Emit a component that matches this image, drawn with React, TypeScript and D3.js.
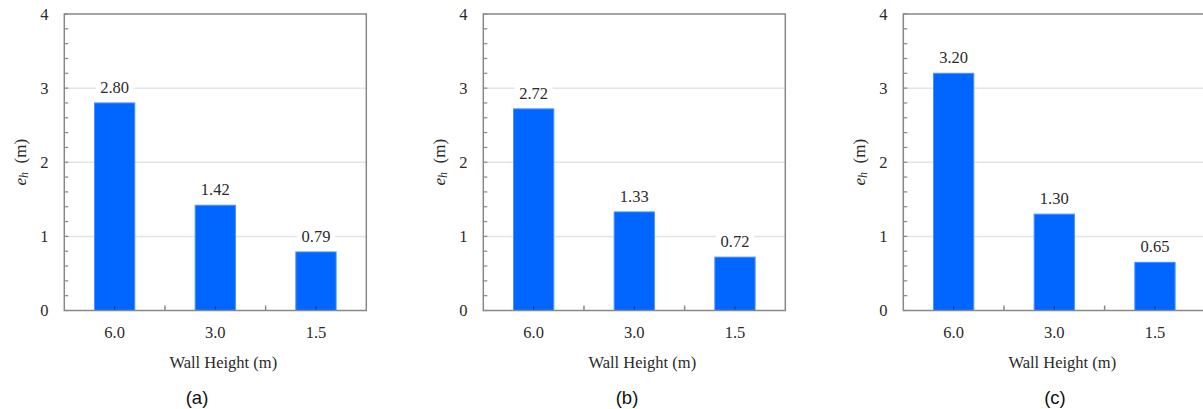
import React from "react";
import * as d3 from "d3";

const categories = ["6.0", "3.0", "1.5"];
const valuesA = [2.8, 1.42, 0.79];
const valuesB = [2.72, 1.33, 0.72];
const valuesC = [3.2, 1.3, 0.65];
const captions = ["(a)", "(b)", "(c)"];
const yTicks = [0, 1, 2, 3, 4];
const yMinorTicks = d3.range(0, 4.0001, 0.2);

const W = 1203;
const H = 409;
const panelLefts = [64.3, 483.3, 903.3];
const captionX = [197, 627, 1055];
const plotW = 302;
const top = 14;
const bottom = 310.5;

const serif = "'Liberation Serif', 'Times New Roman', serif";
const sans = "'Liberation Sans', Arial, sans-serif";
const textCol = "#2a2a2a";

function Panel({ left, values, caption, capX }: { left: number; values: number[]; caption: string; capX: number }) {
  const x = d3.scaleBand<string>().domain(categories).range([left, left + plotW]).paddingInner(0.6).paddingOuter(0.3);
  const y = d3.scaleLinear().domain([0, 4]).range([bottom, top]);
  const step = x.step();
  const boundaries = [1, 2].map((k) => left + step * k);
  return (
    <g>
      {[1, 2, 3].map((t) => (
        <line key={"g" + t} x1={left} x2={left + plotW} y1={y(t)} y2={y(t)} stroke="#e4e4e4" strokeWidth={1.5} />
      ))}
      {values.map((v, i) => (
        <rect
          key={"b" + i}
          x={x(categories[i])!}
          y={y(v)}
          width={x.bandwidth()}
          height={bottom - y(v)}
          fill="#0066ff"
          stroke="#4a90ff"
          strokeWidth={1}
        />
      ))}
      {values.map((v, i) => {
        const cx = x(categories[i])! + x.bandwidth() / 2;
        const cy = y(v) - 15.5;
        return (
          <g key={"l" + i}>
            <rect x={cx - 19} y={cy - 8} width={38} height={16} fill="#ffffff" />
            <text x={cx} y={cy} textAnchor="middle" dominantBaseline="central" fontFamily={serif} fontSize={16.5} fill={textCol}>
              {v.toFixed(2)}
            </text>
          </g>
        );
      })}
      {yMinorTicks.map((t, i) => (
        <line key={"ym" + i} x1={left} x2={left + 4} y1={y(t)} y2={y(t)} stroke="#888" strokeWidth={1.2} />
      ))}
      {boundaries.map((bx, i) => (
        <line key={"xb" + i} x1={bx} x2={bx} y1={bottom} y2={bottom - 5} stroke="#888" strokeWidth={1.5} />
      ))}
      {categories.map((c, i) => {
        const cx = x(c)! + x.bandwidth() / 2;
        return <line key={"xc" + i} x1={cx} x2={cx} y1={bottom} y2={bottom - 4} stroke="#003a99" strokeWidth={1.2} />;
      })}
      <rect x={left} y={top} width={plotW} height={bottom - top} fill="none" stroke="#888" strokeWidth={1.5} />
      {yTicks.map((t) => (
        <text key={"yt" + t} x={left - 20} y={y(t)} textAnchor="middle" dominantBaseline="central" fontFamily={serif} fontSize={16.5} fill={textCol}>
          {t}
        </text>
      ))}
      {categories.map((c) => (
        <text key={"xt" + c} x={x(c)! + x.bandwidth() / 2} y={332} textAnchor="middle" dominantBaseline="central" fontFamily={serif} fontSize={16.5} fill={textCol}>
          {c}
        </text>
      ))}
      <text x={left + plotW / 2 + 8} y={362} textAnchor="middle" dominantBaseline="central" fontFamily={serif} fontSize={16.5} fill={textCol}>
        Wall Height (m)
      </text>
      <text
        transform={`translate(${left - 44},${(top + bottom) / 2}) rotate(-90)`}
        textAnchor="middle"
        dominantBaseline="central"
        fontFamily={serif}
        fontSize={17}
        fill={textCol}
      >
        <tspan fontStyle="italic">e</tspan>
        <tspan fontStyle="italic" fontSize={12} dy={4}>h</tspan>
        <tspan dy={-4}>{"\u00a0\u00a0(m)"}</tspan>
      </text>
      <text x={capX} y={397} textAnchor="middle" dominantBaseline="central" fontFamily={sans} fontSize={18.5} fill="#111">
        {caption}
      </text>
    </g>
  );
}

export default function App() {
  const all = [valuesA, valuesB, valuesC];
  return (
    <svg width={W} height={H} style={{ position: "absolute", left: 0, top: 0, background: "#fff" }}>
      <rect x={0} y={0} width={W} height={H} fill="#fff" />
      {all.map((vals, i) => (
        <Panel key={i} left={panelLefts[i]} values={vals} caption={captions[i]} capX={captionX[i]} />
      ))}
    </svg>
  );
}
